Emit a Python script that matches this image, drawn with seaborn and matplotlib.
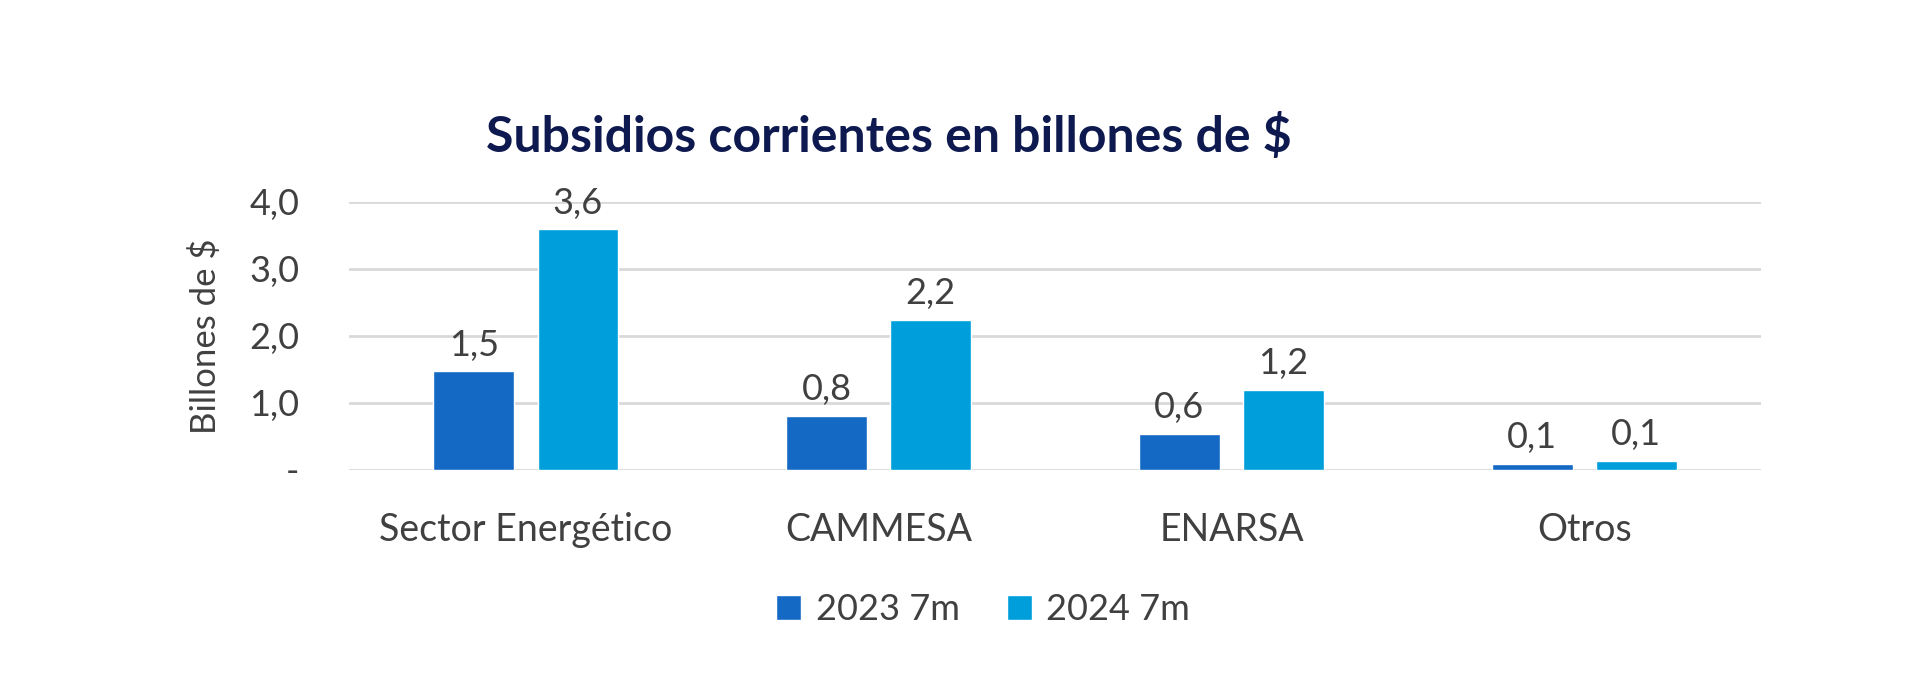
import pandas as pd
import matplotlib.pyplot as plt
import matplotlib.ticker as mticker
import seaborn as sns

# Data
categorias = ['Sector Energético', 'CAMMESA', 'ENARSA', 'Otros']
valores_2023 = [1.47, 0.81, 0.54, 0.09]
valores_2024 = [3.59, 2.24, 1.19, 0.13]
etiquetas_2023 = ['1,5', '0,8', '0,6', '0,1']
etiquetas_2024 = ['3,6', '2,2', '1,2', '0,1']
series = ['2023 7m', '2024 7m']
yticks = [0, 1, 2, 3, 4]

df = pd.DataFrame({
    'categoria': categorias * 2,
    'valor': valores_2023 + valores_2024,
    'serie': [series[0]] * 4 + [series[1]] * 4,
})

sns.set_style('white')
plt.rcParams['font.family'] = ['Lato', 'DejaVu Sans']

fig = plt.figure(figsize=(19.2, 6.8), dpi=100)
ax = fig.add_axes([0.182, 0.309, 0.735, 0.394])

sns.barplot(data=df, x='categoria', y='valor', hue='serie',
            palette=['#1469C4', '#009FDB'], width=0.59, gap=0.225,
            saturation=1, ax=ax, legend=True)

# value labels
for cont, labs in zip(ax.containers, [etiquetas_2023, etiquetas_2024]):
    ax.bar_label(cont, labels=labs, padding=7, fontsize=26, color='#404040')

ax.set_ylim(0, 4.0)
ax.set_yticks(yticks)
ax.yaxis.set_major_formatter(mticker.FuncFormatter(
    lambda v, p: '-' if v == 0 else f'{v:.1f}'.replace('.', ',')))
ax.grid(axis='y', color='#D9D9D9', linewidth=2)
ax.set_axisbelow(True)
for s in ax.spines.values():
    s.set_visible(False)
ax.tick_params(axis='y', length=0, labelsize=26, colors='#404040', pad=36)
ax.tick_params(axis='x', length=0, labelsize=27, colors='#404040', pad=30)
ax.set_xlabel('')
ax.set_ylabel('Billones de $', fontsize=25, color='#404040', labelpad=20)

leg = ax.legend(loc='upper center', bbox_to_anchor=(0.449, -0.34), ncol=2,
                frameon=False, fontsize=26, handlelength=0.7, handleheight=0.7,
                columnspacing=1.3, handletextpad=0.4)
for t in leg.get_texts():
    t.set_color('#404040')

fig.text(0.463, 0.8, 'Subsidios corrientes en billones de $', ha='center',
         va='center', fontsize=36, fontweight='bold', color='#0E1A4F')

plt.savefig('out.png', dpi=100)
